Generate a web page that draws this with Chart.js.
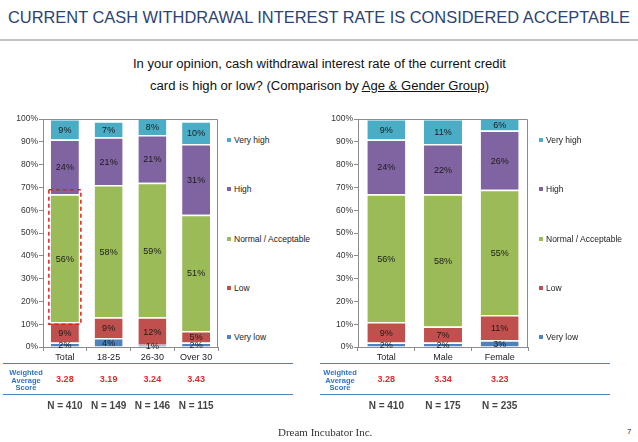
<!DOCTYPE html>
<html>
<head>
<meta charset="utf-8">
<script src="https://cdn.jsdelivr.net/npm/chart.js@4.4.1/dist/chart.umd.min.js"></script>
<style>
body { margin: 0; width: 638px; height: 442px; background: #fff; position: relative; overflow: hidden; font-family: "Liberation Sans", Arial, sans-serif; }
.abs { position: absolute; white-space: nowrap; }
#title { left: 8px; top: 8px; font-size: 17px; color: #2d4373; transform-origin: 0 0; }
#rule { left: 0; top: 39px; width: 638px; height: 2px; background: #c4c4c4; }
.sub { font-size: 12px; color: #111; transform-origin: 0 0; }
.legend { font-size: 8.5px; color: #222; }
.legend i { display: inline-block; width: 4px; height: 4px; margin-right: 3px; vertical-align: 1px; }
.bline { height: 1px; background: #4f7fb8; }
.wlabel { font-size: 7.5px; font-weight: bold; color: #2f74c0; text-align: center; line-height: 7.5px; width: 50px; }
#foot { left: 278px; top: 426px; font-family: "Liberation Serif", serif; font-size: 11px; color: #333; }
#page { left: 627px; top: 427px; font-size: 8px; color: #333; }
canvas { position: absolute; }
</style>
</head>
<body>
<div id="title" class="abs">CURRENT CASH WITHDRAWAL INTEREST RATE IS CONSIDERED ACCEPTABLE</div>
<div id="rule" class="abs"></div>
<div id="sub1" class="abs sub" style="top:57px">In your opinion, cash withdrawal interest rate of the current credit</div>
<div id="sub2" class="abs sub" style="top:79px">card is high or low? (Comparison by <u>Age &amp; Gender Group</u>)</div>

<canvas id="ageChart" width="225" height="305" style="left:0;top:110px"></canvas>
<canvas id="genderChart" width="225" height="305" style="left:315px;top:110px"></canvas>
<div id="legendAge"></div>
<div id="legendGender"></div>

<div class="abs bline" style="left:3px;top:363px;width:290px"></div>
<div class="abs bline" style="left:3px;top:394px;width:290px"></div>
<div class="abs bline" style="left:320px;top:363px;width:290px"></div>
<div class="abs bline" style="left:320px;top:394px;width:290px"></div>
<div class="abs wlabel" style="left:1px;top:369px">Weighted<br>Average<br>Score</div>
<div class="abs wlabel" style="left:315px;top:369px">Weighted<br>Average<br>Score</div>

<div id="foot" class="abs">Dream Incubator Inc.</div>
<div id="page" class="abs">7</div>

<script>
const seriesNames = ["Very low", "Low", "Normal / Acceptable", "High", "Very high"];
const seriesColors = ["#4f81bd", "#c0504d", "#9bbb59", "#8064a2", "#4bacc6"];

const ageGroups = ["Total", "18-25", "26-30", "Over 30"];
const ageVeryLow = [2, 4, 1, 2];
const ageLow = [9, 9, 12, 5];
const ageNormal = [56, 58, 59, 51];
const ageHigh = [24, 21, 21, 31];
const ageVeryHigh = [9, 7, 8, 10];
const ageScore = ["3.28", "3.19", "3.24", "3.43"];
const ageN = [410, 149, 146, 115];

const genderGroups = ["Total", "Male", "Female"];
const genderVeryLow = [2, 2, 3];
const genderLow = [9, 7, 11];
const genderNormal = [56, 58, 55];
const genderHigh = [24, 22, 26];
const genderVeryHigh = [9, 11, 6];
const genderScore = ["3.28", "3.34", "3.23"];
const genderN = [410, 175, 235];

const yTicks = [0, 10, 20, 30, 40, 50, 60, 70, 80, 90, 100];

// stretch text blocks to the width they have in the slide
function fitWidth(id, target) {
    const el = document.getElementById(id);
    const w = el.getBoundingClientRect().width;
    el.style.transform = `scaleX(${target / w})`;
}
fitWidth("title", 622);
fitWidth("sub1", 373);
fitWidth("sub2", 339);
document.getElementById("sub1").style.left = "133px";
document.getElementById("sub2").style.left = "150px";

function buildLegend(id, left) {
    const box = document.getElementById(id);
    const ys = [338, 289, 240, 190, 141];
    seriesNames.forEach((name, i) => {
        const d = document.createElement("div");
        d.className = "abs legend";
        d.style.left = left + "px";
        d.style.top = (ys[i] - 6) + "px";
        d.innerHTML = `<i style="background:${seriesColors[i]}"></i>${name}`;
        box.appendChild(d);
    });
}
buildLegend("legendAge", 227);
buildLegend("legendGender", 539);

const segmentLabels = {
    id: "segmentLabels",
    afterDatasetsDraw(chart) {
        const ctx = chart.ctx;
        ctx.save();
        ctx.font = '9px "Liberation Sans", Arial, sans-serif';
        ctx.fillStyle = "#1a1a1a";
        ctx.textAlign = "center";
        ctx.textBaseline = "middle";
        chart.data.datasets.forEach((ds, i) => {
            chart.getDatasetMeta(i).data.forEach((bar, j) => {
                const p = bar.getProps(["x", "y", "base"], true);
                const top = Math.max(p.y, chart.chartArea.top);
                ctx.fillText(ds.data[j] + "%", p.x, (top + p.base) / 2 + 1);
            });
        });
        ctx.restore();
    }
};

const plotFrame = {
    id: "plotFrame",
    afterDraw(chart) {
        const a = chart.chartArea;
        const ctx = chart.ctx;
        ctx.save();
        ctx.strokeStyle = "#8c8c8c";
        ctx.lineWidth = 1;
        ctx.beginPath();
        ctx.moveTo(a.left, a.top + 0.5);
        ctx.lineTo(a.right - 0.5, a.top + 0.5);
        ctx.lineTo(a.right - 0.5, a.bottom);
        ctx.stroke();
        ctx.restore();
    }
};

const bottomTable = {
    id: "bottomTable",
    afterDraw(chart) {
        const ctx = chart.ctx;
        const x = chart.scales.x;
        const opts = chart.options.plugins.bottomTable;
        ctx.save();
        ctx.textAlign = "center";
        ctx.textBaseline = "middle";
        opts.scores.forEach((s, i) => {
            ctx.font = 'bold 9px "Liberation Sans", Arial, sans-serif';
            ctx.fillStyle = "#e0292b";
            ctx.fillText(s, x.getPixelForValue(i), 270);
            ctx.font = 'bold 10px "Liberation Sans", Arial, sans-serif';
            ctx.fillStyle = "#444";
            ctx.fillText("N = " + opts.counts[i], x.getPixelForValue(i), 296);
        });
        ctx.restore();
    }
};

// red dashed box around the Total "Normal / Acceptable" bar
const highlightBox = {
    id: "highlightBox",
    afterDatasetsDraw(chart) {
        const opts = chart.options.plugins.highlightBox;
        if (!opts || !opts.show) return;
        const bar = chart.getDatasetMeta(0).data[0];
        const y = chart.scales.y;
        const ctx = chart.ctx;
        ctx.save();
        ctx.strokeStyle = "#e02020";
        ctx.lineWidth = 1.5;
        ctx.setLineDash([4, 3]);
        ctx.strokeRect(bar.x - bar.width / 2 - 2, y.getPixelForValue(69), bar.width + 4, y.getPixelForValue(10) - y.getPixelForValue(69));
        ctx.restore();
    }
};

function makeChart(id, labels, series, scores, counts, barPct, padRight, showBox) {
    const ctx = document.getElementById(id).getContext("2d");
    return new Chart(ctx, {
        type: "bar",
        data: {
            labels: labels,
            datasets: series.map((data, i) => ({
                label: seriesNames[i],
                data: data,
                backgroundColor: seriesColors[i],
                borderColor: "#ffffff",
                borderWidth: { top: 1.5, bottom: 0, left: 0, right: 0 },
                borderSkipped: false,
                barPercentage: barPct,
                categoryPercentage: 1
            }))
        },
        options: {
            responsive: false,
            animation: false,
            layout: { padding: { top: 9, right: padRight, bottom: 50, left: 0 } },
            plugins: {
                legend: { display: false },
                tooltip: { enabled: false },
                bottomTable: { scores: scores, counts: counts },
                highlightBox: { show: showBox }
            },
            scales: {
                x: {
                    stacked: true,
                    afterFit: s => { s.height = 18; },
                    border: { color: "#8c8c8c" },
                    grid: { drawOnChartArea: false, tickLength: 4, color: "#8c8c8c" },
                    ticks: { color: "#222", padding: 1, font: { size: 9, family: "Liberation Sans" } }
                },
                y: {
                    stacked: true,
                    min: 0,
                    max: 100,
                    afterFit: s => { s.width = 43; },
                    afterBuildTicks: s => { s.ticks = yTicks.map(v => ({ value: v })); },
                    border: { color: "#8c8c8c" },
                    grid: { drawOnChartArea: false, tickLength: 4, color: "#8c8c8c" },
                    ticks: { color: "#333", padding: 1, font: { size: 8.5, family: "Liberation Sans" }, callback: v => v + "%" }
                }
            }
        },
        plugins: [segmentLabels, plotFrame, bottomTable, highlightBox]
    });
}

makeChart("ageChart", ageGroups, [ageVeryLow, ageLow, ageNormal, ageHigh, ageVeryHigh], ageScore, ageN, 0.64, 7, true);
makeChart("genderChart", genderGroups, [genderVeryLow, genderLow, genderNormal, genderHigh, genderVeryHigh], genderScore, genderN, 0.67, 12, false);
</script>
</body>
</html>
